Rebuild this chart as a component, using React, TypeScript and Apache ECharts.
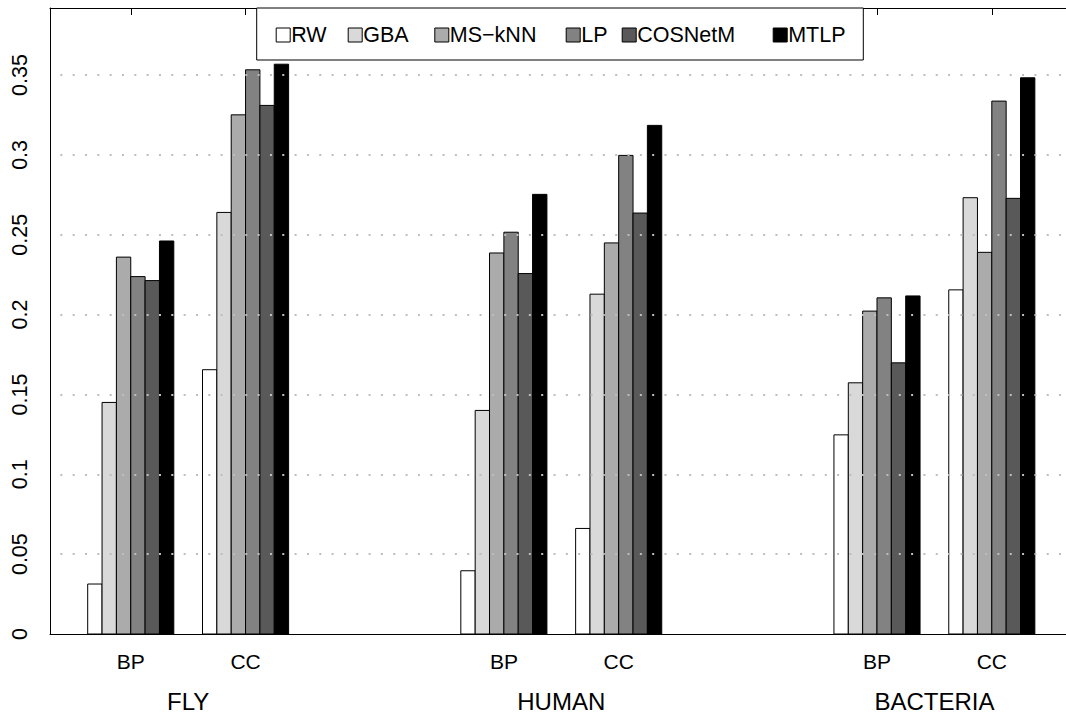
import React, { useEffect, useRef } from "react";
import * as echarts from "echarts";

// ---- data ----
const datasets = ["FLY", "HUMAN", "BACTERIA"];
const ontologies = ["BP", "CC"];
const methods = ["RW", "GBA", "MS\u2212kNN", "LP", "COSNetM", "MTLP"];
// values per method, order: FLY BP, FLY CC, HUMAN BP, HUMAN CC, BACTERIA BP, BACTERIA CC
const rwValues = [0.0313, 0.1655, 0.0396, 0.0661, 0.1247, 0.2155];
const gbaValues = [0.145, 0.264, 0.14, 0.2128, 0.1573, 0.2732];
const msknnValues = [0.236, 0.3251, 0.2386, 0.2449, 0.2022, 0.239];
const lpValues = [0.2238, 0.3533, 0.2516, 0.2997, 0.2105, 0.3337];
const cosnetmValues = [0.2213, 0.331, 0.2257, 0.2636, 0.1698, 0.2728];
const mtlpValues = [0.2461, 0.3568, 0.2753, 0.3185, 0.2117, 0.3483];
const yTicks = [0.05, 0.1, 0.15, 0.2, 0.25, 0.3, 0.35];

const seriesValues = [rwValues, gbaValues, msknnValues, lpValues, cosnetmValues, mtlpValues];
const colors = ["#FFFFFF", "#D9D9D9", "#ABABAB", "#828282", "#595959", "#000000"];

// ---- layout (bar units) ----
const SMALL_GAP = 2;
const LARGE_GAP = 12;
const NBARS = methods.length;
const DATASET_SPAN = NBARS * 2 + SMALL_GAP + LARGE_GAP;
const groupStart = (d: number, o: number) => d * DATASET_SPAN + o * (NBARS + SMALL_GAP);
const legendX = [275.7, 347.7, 434.3, 565.7, 621.7, 772.7];

const FONT = "'Liberation Sans', Arial, Helvetica, sans-serif";

export default function App() {
  const ref = useRef<HTMLDivElement>(null);
  useEffect(() => {
    if (!ref.current) return;
    const chart = echarts.init(ref.current, null, { renderer: "svg" });

    const tickCenters: number[] = [];
    const tickNames: string[] = [];
    datasets.forEach((_, d) =>
      ontologies.forEach((o, oi) => {
        tickCenters.push(groupStart(d, oi) + NBARS / 2);
        tickNames.push(o);
      })
    );
    const dsCenters = datasets.map((_, d) => (groupStart(d, 0) + groupStart(d, 1) + NBARS) / 2);

    const xMin = -2.627;
    const xMax = 68.17;

    const series: any[] = methods.map((m, j) => {
      const data: number[][] = [];
      datasets.forEach((_, d) =>
        ontologies.forEach((__, oi) => {
          data.push([groupStart(d, oi) + j, seriesValues[j][d * ontologies.length + oi]]);
        })
      );
      return {
        name: m,
        type: "custom",
        xAxisIndex: 0,
        yAxisIndex: 0,
        itemStyle: { color: colors[j], borderColor: "#000", borderWidth: 1 },
        encode: { x: 0, y: 1 },
        data,
        renderItem: (params: any, api: any) => {
          const x0 = api.value(0);
          const y = api.value(1);
          const p1 = api.coord([x0, y]);
          const p0 = api.coord([x0 + 1, 0]);
          return {
            type: "rect",
            shape: { x: p1[0], y: p1[1], width: p0[0] - p1[0], height: p0[1] - p1[1] },
            style: { fill: colors[j], stroke: "#000", lineWidth: 1 },
          };
        },
      };
    });

    series.push({
      name: "grid",
      type: "line",
      data: [],
      silent: true,
      markLine: {
        silent: true,
        symbol: "none",
        animation: false,
        label: { show: false },
        lineStyle: { color: "#bebebe", type: [2, 10.33], dashOffset: 1.6, width: 2 },
        data: yTicks.map((v) => ({ yAxis: v })),
      },
    });

    const legends = methods.map((m, j) => ({
      data: [m],
      left: legendX[j],
      top: 24,
      padding: 0,
      z: 20,
      itemWidth: 14,
      itemHeight: 14,
      icon: "rect",
      selectedMode: false,
      itemStyle: { borderColor: "#000", borderWidth: 1 },
      textStyle: { fontFamily: FONT, fontSize: 21.5, color: "#000", padding: [0, 0, 0, -4] },
    }));

    chart.setOption({
      animation: false,
      backgroundColor: "#fff",
      grid: { left: 50, right: 0, top: 8, bottom: 83, containLabel: false },
      legend: legends,
      graphic: [
        {
          type: "rect",
          z: 10,
          shape: { x: 256.7, y: 8, width: 606.6, height: 52 },
          style: { fill: "#fff", stroke: "#000", lineWidth: 1 },
        },
      ],
      xAxis: [
        {
          type: "value",
          min: xMin,
          max: xMax,
          position: "bottom",
          axisLine: { show: true, onZero: false, lineStyle: { color: "#000", width: 1 } },
          axisTick: { show: false },
          splitLine: { show: false },
          axisLabel: {
            customValues: tickCenters,
            formatter: (v: number) => {
              const i = tickCenters.findIndex((c) => Math.abs(c - v) < 1e-6);
              return i >= 0 ? tickNames[i] : "";
            },
            margin: 17,
            fontFamily: FONT,
            fontSize: 21,
            color: "#000",
          },
        },
        {
          type: "value",
          min: xMin,
          max: xMax,
          position: "top",
          axisLine: { show: true, onZero: false, lineStyle: { color: "#000", width: 1 } },
          axisTick: { show: true, inside: true, length: 7, customValues: tickCenters, lineStyle: { color: "#000" } },
          splitLine: { show: false },
          axisLabel: { show: false },
        },
        {
          type: "value",
          min: xMin,
          max: xMax,
          position: "bottom",
          axisLine: { show: false, onZero: false },
          axisTick: { show: false },
          splitLine: { show: false },
          axisLabel: {
            customValues: dsCenters,
            formatter: (v: number) => {
              const i = dsCenters.findIndex((c) => Math.abs(c - v) < 1e-6);
              return i >= 0 ? datasets[i] : "";
            },
            margin: 55,
            fontFamily: FONT,
            fontSize: 24,
            color: "#000",
          },
        },
      ],
      yAxis: {
        type: "value",
        min: 0,
        max: 0.392,
        interval: 0.05,
        position: "left",
        axisLine: { show: true, onZero: false, lineStyle: { color: "#000", width: 1 } },
        axisTick: { show: false },
        splitLine: { show: false },
        axisLabel: {
          rotate: 90,
          margin: 19,
          showMaxLabel: false,
          fontFamily: FONT,
          fontSize: 21.5,
          color: "#000",
          formatter: (v: number) => (v === 0 ? "0" : String(+v.toFixed(2))),
        },
      },
      series,
    });
    return () => chart.dispose();
  }, []);
  return (
    <div
      ref={ref}
      style={{ position: "fixed", left: 0, top: 0, width: 1066, height: 717, background: "#fff" }}
    />
  );
}
